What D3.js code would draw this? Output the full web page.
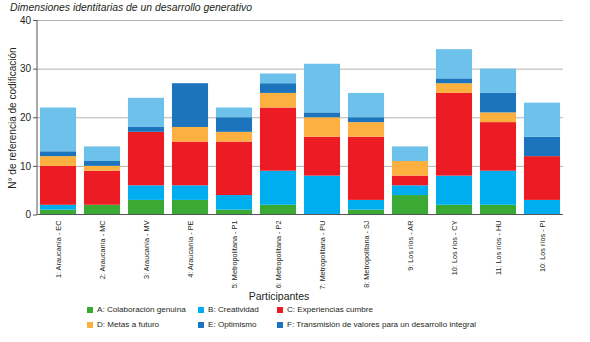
<!DOCTYPE html>
<html lang="es">
<head>
  <meta charset="utf-8">
  <title>Dimensiones identitarias de un desarrollo generativo</title>
  <style>
    body { margin: 0; background: #fff; }
    svg { display: block; font-family: "Liberation Sans", Arial, sans-serif; }
    .grid line { stroke: #b3b3b3; stroke-width: 1; }
    .grid .domain { display: none; }
  </style>
  <script src="https://d3js.org/d3.v7.min.js"></script>
</head>
<body>
<script>
  const participants = ["1: Araucanía - EC", "2: Araucanía - MC", "3: Araucanía - MV", "4: Araucanía - PE",
    "5: Metropolitana - P1", "6: Metropolitana - P2", "7: Metropolitana - PU", "8: Metropolitana - SJ",
    "9: Los ríos - AR", "10: Los ríos - CY", "11: Los ríos - HU", "10: Los ríos - PI"]
  const colaboracion = [1, 2, 3, 3, 1, 2, 0, 1, 4, 2, 2, 0]
  const creatividad  = [1, 0, 3, 3, 3, 7, 8, 2, 2, 6, 7, 3]
  const experiencias = [8, 7, 11, 9, 11, 13, 8, 13, 2, 17, 10, 9]
  const metas        = [2, 1, 0, 3, 2, 3, 4, 3, 3, 2, 2, 0]
  const optimismo    = [1, 1, 1, 9, 3, 2, 1, 1, 0, 1, 4, 4]
  const transmision  = [9, 3, 6, 0, 2, 2, 10, 5, 3, 6, 5, 7]
  const yTicks = [0, 10, 20, 30, 40]

  const seriesNames = ["A: Colaboración genuina", "B: Creatividad", "C: Experiencias cumbre",
    "D: Metas a futuro", "E: Optimismo", "F: Transmisión de valores para un desarrollo integral"]
  const seriesColors = ["#3aaa35", "#00aeef", "#ed1c24", "#fbb040", "#1c75bc", "#6ec1ea"]
  const legendColors = ["#3aaa35", "#00aeef", "#ed1c24", "#fbb040", "#1c75bc", "#1c75bc"]
  const seriesValues = [colaboracion, creatividad, experiencias, metas, optimismo, transmision]

  let width = 590
  let height = 342
  let plotLeft = 37, plotRight = 563, plotTop = 20, plotBottom = 214.5

  let rows = participants.map((p, i) => {
    let r = { name: i }
    seriesNames.forEach((s, j) => r[s] = seriesValues[j][i])
    return r
  })
  let stacked = d3.stack().keys(seriesNames)(rows)

  let svg = d3.select("body").append("svg")
      .attr("width", width)
      .attr("height", height)

  let x = d3.scaleBand()
      .domain(d3.range(participants.length))
      .range([36, 564])
      .paddingInner(0.18)
      .paddingOuter(0.09)

  let y = d3.scaleLinear()
      .domain([0, 40])
      .range([plotBottom, plotTop])

  // title
  svg.append("text")
      .attr("x", 10)
      .attr("y", 11)
      .attr("font-size", 10.4)
      .attr("font-style", "italic")
      .attr("fill", "#231f20")
      .text("Dimensiones identitarias de un desarrollo generativo")

  // gridlines
  svg.append("g")
      .attr("class", "grid")
      .attr("transform", `translate(${plotLeft},0)`)
      .call(d3.axisRight(y).tickValues(yTicks.slice(1)).tickSize(plotRight - plotLeft).tickFormat(""))

  // bars
  svg.append("g").selectAll("g")
      .data(stacked)
      .join("g")
      .attr("fill", (d, i) => seriesColors[i])
      .selectAll("rect")
      .data(d => d)
      .join("rect")
      .attr("x", (d, i) => x(i))
      .attr("width", x.bandwidth())
      .attr("y", d => y(d[1]))
      .attr("height", d => y(d[0]) - y(d[1]))

  // y axis
  let yAxis = svg.append("g")
      .attr("transform", `translate(${plotLeft},0)`)
      .call(d3.axisLeft(y).tickValues(yTicks).tickSize(4).tickPadding(2))
  yAxis.select(".domain").attr("stroke", "#555").attr("d", `M0,${plotTop}V${plotBottom}`)
  yAxis.selectAll(".tick line").attr("stroke", "#555")
  yAxis.selectAll("text").attr("font-size", 10).attr("fill", "#231f20")

  // x axis
  let xAxis = svg.append("g")
      .attr("transform", `translate(0,${plotBottom})`)
      .call(d3.axisBottom(x).tickSize(0).tickFormat(i => participants[i]))
  xAxis.select(".domain").attr("stroke", "#555").attr("d", `M${plotLeft},0H${plotRight}`)
  xAxis.selectAll("text")
      .attr("font-size", 7.3)
      .attr("fill", "#231f20")
      .attr("text-anchor", "end")
      .attr("transform", "rotate(-90)")
      .attr("x", -6)
      .attr("y", 0)
      .attr("dy", "0.35em")

  // y label
  svg.append("text")
      .attr("transform", `translate(16,118) rotate(-90)`)
      .attr("text-anchor", "middle")
      .attr("font-size", 10)
      .attr("fill", "#231f20")
      .text("N° de referencia de codificación")

  // x label
  svg.append("text")
      .attr("x", 279)
      .attr("y", 300)
      .attr("text-anchor", "middle")
      .attr("font-size", 10.5)
      .attr("fill", "#231f20")
      .text("Participantes")

  // legend
  let legendX = [87, 198, 277]
  let legendY = [312, 327]
  let legend = svg.append("g").selectAll("g")
      .data(seriesNames)
      .join("g")
      .attr("transform", (d, i) => `translate(${legendX[i % 3]},${legendY[Math.floor(i / 3)]})`)
  legend.append("rect")
      .attr("x", 0).attr("y", -5)
      .attr("width", 6).attr("height", 6)
      .attr("fill", (d, i) => legendColors[i])
  legend.append("text")
      .attr("x", 10)
      .attr("y", 0)
      .attr("dy", "0.05em")
      .attr("font-size", 8.1)
      .attr("fill", "#231f20")
      .text(d => d)
</script>
</body>
</html>
